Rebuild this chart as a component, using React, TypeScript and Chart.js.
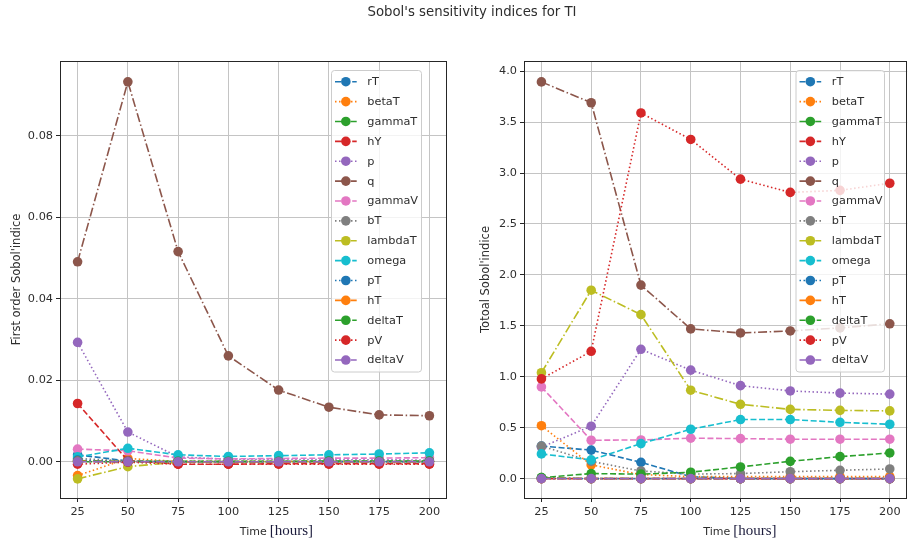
import React, { useEffect, useRef } from "react";
import { Chart, registerables } from "chart.js";

Chart.register(...registerables);

// ---------- data ----------
const hours = [25, 50, 75, 100, 125, 150, 175, 200];
const xTicks = [25, 50, 75, 100, 125, 150, 175, 200];
const firstTicks = [0, 0.02, 0.04, 0.06, 0.08];
const totalTicks = [0, 0.5, 1.0, 1.5, 2.0, 2.5, 3.0, 3.5, 4.0];

const paramNames = ["rT", "betaT", "gammaT", "hY", "p", "q", "gammaV", "bT", "lambdaT", "omega", "pT", "hT", "deltaT", "pV", "deltaV"];
const paramColors = ["#1f77b4", "#ff7f0e", "#2ca02c", "#d62728", "#9467bd", "#8c564b", "#e377c2", "#7f7f7f", "#bcbd22", "#17becf", "#1f77b4", "#ff7f0e", "#2ca02c", "#d62728", "#9467bd"];
const paramStyles = ["--", ":", "-.", "--", ":", "-.", "--", ":", "-.", "--", ":", "-.", "--", ":", "-."];

// first order Sobol indices
const first_rT = [0.0017, 0.0002, 0.0, 0.0, 0.0, 0.0, 0.0, 0.0];
const first_betaT = [-0.0034, 0.0008, 0.0001, 0.0001, 0.0001, 0.0001, 0.0001, 0.0001];
const first_gammaT = [0.0003, 0.0001, 0.0, 0.0, 0.0, 0.0, 0.0, 0.0];
const first_hY = [0.0143, 0.0003, -0.0006, -0.0006, -0.0005, -0.0005, -0.0005, -0.0005];
const first_p = [0.0293, 0.0073, 0.0012, 0.0006, 0.0006, 0.0005, 0.0005, 0.0004];
const first_q = [0.0491, 0.0933, 0.0516, 0.026, 0.0176, 0.0134, 0.0115, 0.0113];
const first_gammaV = [0.0031, 0.0027, 0.0009, 0.0007, 0.0008, 0.0009, 0.0009, 0.001];
const first_bT = [0.0008, 0.0002, 0.0001, 0.0001, 0.0001, 0.0001, 0.0001, 0.0001];
const first_lambdaT = [-0.0042, -0.0012, -0.0001, 0.0, 0.0, 0.0, 0.0, 0.0];
const first_omega = [0.0012, 0.0033, 0.0017, 0.0013, 0.0015, 0.0017, 0.0019, 0.0022];
const first_pT = [0.0004, 0.0, 0.0, 0.0, 0.0, 0.0, 0.0, 0.0];
const first_hT = [0.0001, 0.0, 0.0, 0.0, 0.0, 0.0, 0.0, 0.0];
const first_deltaT = [0.0, 0.0, 0.0001, 0.0001, 0.0001, 0.0002, 0.0002, 0.0002];
const first_pV = [-0.0006, -0.0001, -0.0006, -0.0006, -0.0006, -0.0006, -0.0006, -0.0006];
const first_deltaV = [0.0, 0.0, 0.0, 0.0, 0.0, 0.0, 0.0, 0.0];

// total Sobol indices
const total_rT = [0.32, 0.28, 0.16, 0.02, 0.0, 0.0, 0.0, 0.0];
const total_betaT = [0.52, 0.135, 0.04, 0.02, 0.02, 0.02, 0.02, 0.02];
const total_gammaT = [0.01, 0.0, 0.0, 0.0, 0.0, 0.0, 0.0, 0.0];
const total_hY = [0.0, 0.0, 0.0, 0.0, 0.0, 0.0, 0.0, 0.0];
const total_p = [0.31, 0.515, 1.27, 1.065, 0.913, 0.861, 0.84, 0.83];
const total_q = [3.895, 3.69, 1.9, 1.47, 1.43, 1.45, 1.48, 1.52];
const total_gammaV = [0.9, 0.377, 0.38, 0.397, 0.393, 0.387, 0.387, 0.387];
const total_bT = [0.32, 0.17, 0.075, 0.045, 0.05, 0.068, 0.082, 0.095];
const total_lambdaT = [1.04, 1.85, 1.61, 0.868, 0.73, 0.68, 0.67, 0.665];
const total_omega = [0.243, 0.184, 0.344, 0.485, 0.58, 0.58, 0.553, 0.534];
const total_pT = [0.0, 0.0, 0.0, 0.0, 0.0, 0.0, 0.0, 0.0];
const total_hT = [0.0, 0.0, 0.0, 0.0, 0.0, 0.0, 0.0, 0.0];
const total_deltaT = [0.01, 0.05, 0.044, 0.063, 0.115, 0.17, 0.216, 0.252];
const total_pV = [0.979, 1.25, 3.59, 3.33, 2.94, 2.81, 2.83, 2.9];
const total_deltaV = [0.0, 0.0, 0.0, 0.0, 0.0, 0.0, 0.0, 0.0];

const firstSeries = [first_rT, first_betaT, first_gammaT, first_hY, first_p, first_q, first_gammaV, first_bT, first_lambdaT, first_omega, first_pT, first_hT, first_deltaT, first_pV, first_deltaV];
const totalSeries = [total_rT, total_betaT, total_gammaT, total_hY, total_p, total_q, total_gammaV, total_bT, total_lambdaT, total_omega, total_pT, total_hT, total_deltaT, total_pV, total_deltaV];

const titleText = "Sobol's sensitivity indices for TI";
const firstYLabel = "First order Sobol'indice";
const totalYLabel = "Totoal Sobol'indice";
const xLabelWord = "Time";
const xLabelUnit = "[hours]";

// ---------- styling ----------
const SANS = "'DejaVu Sans', sans-serif";
const SERIF = "'Liberation Serif', 'DejaVu Serif', serif";
const TEXT = "#2e2e2e";
const FIG_H = 548;
const LINE_W = 1.6;
const MARKER_R = 4.8;

const dashFor = (s: string): number[] => {
  if (s === "--") return [6, 2.6];
  if (s === ":") return [1.5, 2.5];
  return [9, 2.6, 1.5, 2.6];
};

type Panel = {
  canvasLeft: number;
  canvasWidth: number;
  area: { left: number; right: number; top: number; bottom: number };
  yMin: number;
  yMax: number;
  yTicks: number[];
  yDecimals: number;
  yLabel: string;
  yLabelX: number;
  legend: { x: number; y: number; w: number; h: number };
  series: number[][];
};

const panels: Panel[] = [
  {
    canvasLeft: 0,
    canvasWidth: 462,
    area: { left: 60, right: 447, top: 61, bottom: 498 },
    yMin: -0.0089,
    yMax: 0.0984,
    yTicks: firstTicks,
    yDecimals: 2,
    yLabel: firstYLabel,
    yLabelX: 17,
    legend: { x: 331.5, y: 70.5, w: 90, h: 301.5 },
    series: firstSeries,
  },
  {
    canvasLeft: 462,
    canvasWidth: 450,
    area: { left: 524, right: 910, top: 61, bottom: 498 },
    yMin: -0.19,
    yMax: 4.1,
    yTicks: totalTicks,
    yDecimals: 1,
    yLabel: totalYLabel,
    yLabelX: 486,
    legend: { x: 796, y: 70.5, w: 88.5, h: 301.5 },
    series: totalSeries,
  },
];

function makeDecor(p: Panel) {
  return {
    id: "decor",
    afterDatasetsDraw(chart: any) {
      const ctx = chart.ctx as CanvasRenderingContext2D;
      const a = chart.chartArea;
      const off = p.canvasLeft;
      ctx.save();
      // spines
      ctx.setLineDash([]);
      ctx.strokeStyle = "#262626";
      ctx.lineWidth = 1;
      ctx.strokeRect(Math.round(a.left) + 0.5, Math.round(a.top) + 0.5, Math.round(a.right - a.left) - 1, Math.round(a.bottom - a.top));

      // legend
      const L = p.legend;
      const lx = L.x - off;
      ctx.fillStyle = "rgba(255,255,255,0.8)";
      ctx.strokeStyle = "#cccccc";
      ctx.lineWidth = 1;
      const r = 3;
      ctx.beginPath();
      ctx.moveTo(lx + r, L.y);
      ctx.lineTo(lx + L.w - r, L.y);
      ctx.quadraticCurveTo(lx + L.w, L.y, lx + L.w, L.y + r);
      ctx.lineTo(lx + L.w, L.y + L.h - r);
      ctx.quadraticCurveTo(lx + L.w, L.y + L.h, lx + L.w - r, L.y + L.h);
      ctx.lineTo(lx + r, L.y + L.h);
      ctx.quadraticCurveTo(lx, L.y + L.h, lx, L.y + L.h - r);
      ctx.lineTo(lx, L.y + r);
      ctx.quadraticCurveTo(lx, L.y, lx + r, L.y);
      ctx.closePath();
      ctx.fill();
      ctx.stroke();

      ctx.font = `11.3px ${SANS}`;
      ctx.textBaseline = "middle";
      ctx.textAlign = "left";
      paramNames.forEach((name, i) => {
        const cy = L.y + 11.2 + i * 19.88;
        const h0 = lx + 3.5;
        const h1 = lx + 25.2;
        ctx.strokeStyle = paramColors[i];
        ctx.lineWidth = LINE_W;
        ctx.setLineDash(dashFor(paramStyles[i]));
        ctx.beginPath();
        ctx.moveTo(h0, cy);
        ctx.lineTo(h1, cy);
        ctx.stroke();
        ctx.setLineDash([]);
        ctx.fillStyle = paramColors[i];
        ctx.beginPath();
        ctx.arc((h0 + h1) / 2, cy, MARKER_R, 0, Math.PI * 2);
        ctx.fill();
        ctx.fillStyle = TEXT;
        ctx.fillText(name, lx + 35.8, cy + 0.5);
      });

      // y label
      ctx.save();
      ctx.translate(p.yLabelX - off, (p.area.top + p.area.bottom) / 2);
      ctx.rotate(-Math.PI / 2);
      ctx.font = `11.5px ${SANS}`;
      ctx.fillStyle = TEXT;
      ctx.textAlign = "center";
      ctx.textBaseline = "middle";
      ctx.fillText(p.yLabel, 0, 0);
      ctx.restore();

      // x label
      const cx = (p.area.left + p.area.right) / 2 - off;
      const startX = cx - 13.7;
      ctx.textAlign = "left";
      ctx.textBaseline = "alphabetic";
      ctx.font = `11px ${SANS}`;
      ctx.fillStyle = TEXT;
      ctx.fillText(xLabelWord, startX, 535);
      const w = ctx.measureText(xLabelWord).width;
      ctx.font = `15px ${SERIF}`;
      ctx.fillStyle = "#1c1c3c";
      ctx.fillText(xLabelUnit, startX + w + 3, 534.5);
      ctx.restore();
    },
  };
}

function buildChart(canvas: HTMLCanvasElement, p: Panel) {
  const datasets = paramNames.map((name, i) => ({
    label: name,
    data: p.series[i].map((v, j) => ({ x: hours[j], y: v })),
    borderColor: paramColors[i],
    backgroundColor: paramColors[i],
    pointBackgroundColor: paramColors[i],
    pointBorderWidth: 0,
    pointRadius: MARKER_R,
    pointHoverRadius: MARKER_R,
    borderWidth: LINE_W,
    borderDash: dashFor(paramStyles[i]),
    tension: 0,
    fill: false,
    order: paramNames.length - i,
  }));
  const chartLeft = p.area.left - p.canvasLeft;
  const chartRight = p.area.right - p.canvasLeft;
  return new Chart(canvas, {
    type: "line",
    data: { datasets },
    plugins: [makeDecor(p)],
    options: {
      animation: false,
      responsive: false,
      devicePixelRatio: 1,
      events: [],
      layout: { padding: { top: p.area.top, right: p.canvasWidth - chartRight, left: 0, bottom: 0 } },
      plugins: { legend: { display: false }, tooltip: { enabled: false }, title: { display: false } },
      scales: {
        x: {
          type: "linear",
          min: 16.25,
          max: 208.75,
          afterBuildTicks: (scale: any) => {
            scale.ticks = xTicks.map((v) => ({ value: v }));
          },
          afterFit: (scale: any) => {
            scale.height = FIG_H - p.area.bottom;
          },
          grid: { color: "#c4c4c4", lineWidth: 1, drawTicks: true, tickLength: 4, tickColor: "#262626", tickWidth: 1 },
          border: { display: false },
          ticks: {
            color: TEXT,
            font: { family: SANS, size: 11.3 },
            padding: 3,
            maxRotation: 0,
            autoSkip: false,
            callback: (v: any) => String(v),
          },
        },
        y: {
          type: "linear",
          min: p.yMin,
          max: p.yMax,
          afterBuildTicks: (scale: any) => {
            scale.ticks = p.yTicks.map((v) => ({ value: v }));
          },
          afterFit: (scale: any) => {
            scale.width = chartLeft;
          },
          grid: { color: "#c4c4c4", lineWidth: 1, drawTicks: true, tickLength: 4, tickColor: "#262626", tickWidth: 1 },
          border: { display: false },
          ticks: {
            color: TEXT,
            font: { family: SANS, size: 11.3 },
            padding: 3,
            autoSkip: false,
            callback: (v: any) => Number(v).toFixed(p.yDecimals),
          },
        },
      },
    },
  } as any);
}

function PanelCanvas({ panel }: { panel: Panel }) {
  const ref = useRef<HTMLCanvasElement | null>(null);
  useEffect(() => {
    if (!ref.current) return;
    const chart = buildChart(ref.current, panel);
    return () => chart.destroy();
  }, [panel]);
  return (
    <canvas
      ref={ref}
      width={panel.canvasWidth}
      height={FIG_H}
      style={{ position: "absolute", left: panel.canvasLeft, top: 0, width: panel.canvasWidth, height: FIG_H }}
    />
  );
}

export default function App() {
  return (
    <div
      style={{
        position: "fixed",
        left: 0,
        top: 0,
        width: 909,
        height: FIG_H,
        overflow: "hidden",
        background: "#ffffff",
      }}
    >
      {panels.map((p, i) => (
        <PanelCanvas key={i} panel={p} />
      ))}
      <div
        style={{
          position: "absolute",
          left: 0,
          top: 4,
          width: 944,
          textAlign: "center",
          fontFamily: SANS,
          fontSize: 13.3,
          lineHeight: "16px",
          color: TEXT,
          whiteSpace: "nowrap",
        }}
      >
        {titleText}
      </div>
    </div>
  );
}
